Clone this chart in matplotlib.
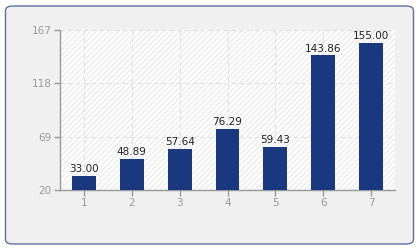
import matplotlib.pyplot as plt
from matplotlib.patches import FancyBboxPatch, Rectangle

# data
categories = [1, 2, 3, 4, 5, 6, 7]
values = [33.00, 48.89, 57.64, 76.29, 59.43, 143.86, 155.00]
y_ticks = [20, 69, 118, 167]

plt.rcParams['font.family'] = ['DejaVu Sans']

fig = plt.figure(figsize=(4.2, 2.5), dpi=100)
fig.patch.set_facecolor('white')

# outer rounded panel
panel = FancyBboxPatch((5.5 / 420, 6 / 250), 408 / 420, 238 / 250,
                       boxstyle='round,pad=0,rounding_size=0.018',
                       transform=fig.transFigure, facecolor='#f0f0f0',
                       edgecolor='#5f6f9f', linewidth=1.0, zorder=-5)
fig.add_artist(panel)

ax = fig.add_axes([60 / 420, 60 / 250, 335 / 420, 160 / 250])
ax.set_zorder(1)
ax.set_facecolor('white')
# faint diagonal hatch on plot area
ax.add_patch(Rectangle((0, 0), 1, 1, transform=ax.transAxes, facecolor='white',
                       edgecolor='#ececec', hatch='//////', linewidth=0, zorder=0))

ax.bar(categories, values, width=0.5, color='#1a3880', zorder=3)
for x, v in zip(categories, values):
    ax.text(x, v + 1.5, f'{v:.2f}', ha='center', va='bottom', fontsize=7.5,
            color='#222222', zorder=4)

ax.set_xlim(0.5, 7.5)
ax.set_ylim(20, 167)
ax.set_yticks(y_ticks)
ax.set_xticks(categories)

ax.grid(True, linestyle=(0, (4, 3)), color='#e0e0e0', linewidth=0.8, zorder=1)
ax.set_axisbelow(True)

for s in ['top', 'right']:
    ax.spines[s].set_visible(False)
for s in ['left', 'bottom']:
    ax.spines[s].set_color('#999999')
    ax.spines[s].set_linewidth(1.0)

ax.tick_params(axis='both', colors='#999999', labelcolor='#999999', labelsize=7.5,
               length=4, width=1.0, pad=2)

fig.savefig('out.png', dpi=100)
